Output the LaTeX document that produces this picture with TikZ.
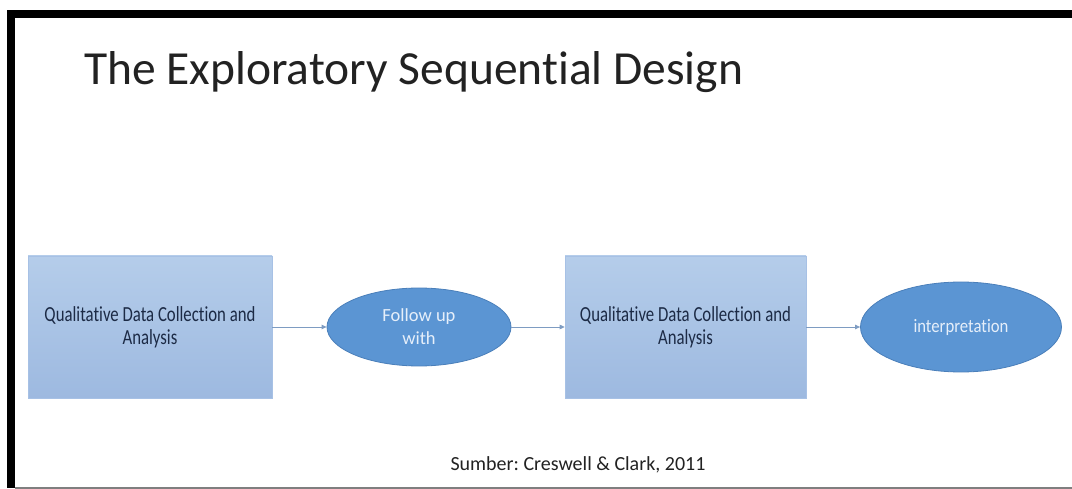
\documentclass[tikz,border=0pt]{standalone}
\usepackage{fontspec}
\setmainfont{Carlito}[Ligatures=NoCommon]
\newfontfamily\narrowfont[FakeStretch=0.78,Ligatures=NoCommon]{Carlito}
\newfontfamily\interpfont[FakeStretch=0.88,Ligatures=NoCommon]{Carlito}
\frenchspacing
\usetikzlibrary{shapes.geometric,arrows.meta}
\definecolor{boxtop}{HTML}{B5CDEA}
\definecolor{boxbot}{HTML}{9DB9E0}
\definecolor{boxedge}{HTML}{A7C1E5}
\definecolor{ellfill}{HTML}{5B95D3}
\definecolor{elledge}{HTML}{4A7FBA}
\definecolor{ellfont}{HTML}{E6EFFA}
\definecolor{boxfont}{HTML}{1C2A45}
\definecolor{arrowcol}{HTML}{7E9CC2}
\definecolor{titlecol}{HTML}{222222}
\definecolor{linegray}{HTML}{7F7F7F}
\tikzset{
  stagebox/.style={rectangle, top color=boxtop, bottom color=boxbot, draw=boxedge, line width=0.6pt,
    minimum width=244pt, minimum height=142pt, inner sep=0pt, align=center, text=boxfont,
    font=\narrowfont\fontsize{21.5pt}{23pt}\selectfont},
  stageell/.style={ellipse, fill=ellfill, draw=elledge, line width=0.8pt, inner sep=0pt,
    align=center, text=ellfont, font=\fontsize{18.5pt}{23pt}\selectfont},
  flowarrow/.style={draw=arrowcol, line width=0.9pt, -{Triangle[length=5pt,width=4.5pt]}}
}
\begin{document}
\begin{tikzpicture}[x=1pt,y=-1pt]
  \fill[white] (0,0) rectangle (1072,489);
  \useasboundingbox (0,0) rectangle (1072,489);
  % frame
  \fill[black] (7,10) rectangle (1072,18);
  \fill[black] (7,10) rectangle (15,488);
  \draw[linegray, line width=1.6pt] (15,488) -- (1072,488);
  % title
  \node[anchor=base west, inner sep=0pt, text=titlecol, font=\fontsize{47.5pt}{50pt}\selectfont] (title) at (84,85) {The Exploratory Sequential Design};
  % nodes
  \node[stagebox] (b1) at (150,327) {Qualitative Data Collection and\\Analysis};
  \node[stageell, minimum width=184pt, minimum height=78pt] (e1) at (419,327) {Follow up\\with};
  \node[stagebox, minimum width=241pt] (b2) at (685.5,327) {Qualitative Data Collection and\\Analysis};
  \node[stageell, minimum width=201pt, minimum height=90pt, font=\interpfont\fontsize{19pt}{23pt}\selectfont] (e2) at (961,327) {interpretation};
  % arrows
  \draw[flowarrow] (b1.east) -- (e1.west);
  \draw[flowarrow] (e1.east) -- (b2.west);
  \draw[flowarrow] (b2.east) -- (e2.west);
  % caption
  \node[anchor=base, inner sep=0pt, text=titlecol, font=\fontsize{20pt}{22pt}\selectfont] (cap) at (578,470) {Sumber: Creswell \& Clark, 2011};
\end{tikzpicture}
\end{document}
